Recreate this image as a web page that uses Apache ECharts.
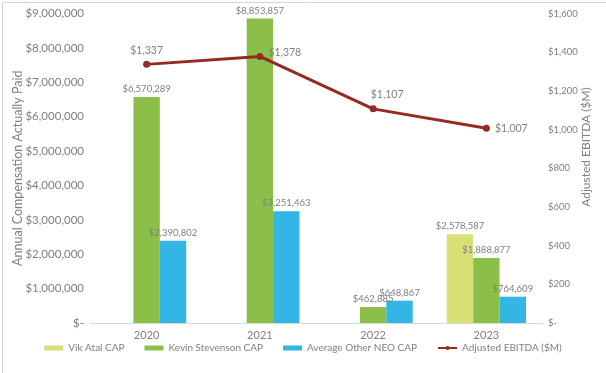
<!DOCTYPE html>
<html>
<head>
<meta charset="utf-8">
<script src="https://cdn.jsdelivr.net/npm/echarts@6/dist/echarts.min.js"></script>
<style>
html,body{margin:0;padding:0;background:#fff;}
#chart{width:606px;height:373px;}
</style>
</head>
<body>
<div id="chart"></div>
<script>
// ---- data ----
var categories = ['2020', '2021', '2022', '2023'];
var vikAtalCAP = [null, null, null, 2578587];
var kevinStevensonCAP = [6570289, 8853857, 462885, 1888877];
var avgOtherNeoCAP = [2390802, 3251463, 648867, 764609];
var adjustedEbitda = [1337, 1378, 1107, 1007];
var leftTicks = { min: 0, max: 9000000, interval: 1000000 };
var rightTicks = { min: 0, max: 1600, interval: 200 };
var ebitdaLabelPos = ['top', 'right', 'top', 'right'];

var FONT = 'Lato';
var GRAY = '#7f7f7f';

function money(v) {
  if (v === 0) return '$-';
  return '$' + Math.round(v).toLocaleString('en-US');
}

var chart = echarts.init(document.getElementById('chart'));

var barLabel = {
  show: true, position: 'top', distance: 3,
  color: GRAY, fontFamily: FONT, fontSize: 9.5,
  formatter: function (p) { return money(p.value); }
};

var lineData = adjustedEbitda.map(function (v, i) {
  var lbl = { position: ebitdaLabelPos[i] };
  if (i === 1) { lbl.offset = [0, -4]; }
  if (i === 2) { lbl.offset = [14, 0]; }
  return { value: v, label: lbl };
});

chart.setOption({
  animation: false,
  textStyle: { fontFamily: FONT },
  grid: { left: 90, right: 63, top: 13.5, bottom: 50, containLabel: false, outerBoundsMode: 'none' },
  legend: {
    bottom: 15, left: 'center',
    itemWidth: 19, itemHeight: 5, itemGap: 20,
    textStyle: { color: GRAY, fontFamily: FONT, fontSize: 10 },
    data: [
      { name: 'Vik Atal CAP', icon: 'rect' },
      { name: 'Kevin Stevenson CAP', icon: 'rect' },
      { name: 'Average Other NEO CAP', icon: 'rect' },
      { name: 'Adjusted EBITDA ($M)' }
    ]
  },
  xAxis: {
    type: 'category', data: categories,
    axisTick: { show: false },
    axisLine: { lineStyle: { color: '#d9d9d9', width: 1 } },
    axisLabel: { color: GRAY, fontFamily: FONT, fontSize: 11, margin: 7 }
  },
  yAxis: [
    {
      type: 'value', min: leftTicks.min, max: leftTicks.max, interval: leftTicks.interval,
      name: 'Annual Compensation Actually Paid', nameLocation: 'middle', nameGap: 66,
      nameMoveOverlap: false,
      nameTextStyle: { color: GRAY, fontFamily: FONT, fontSize: 12.5 },
      splitLine: { show: false }, axisLine: { show: false }, axisTick: { show: false },
      axisLabel: { color: GRAY, fontFamily: FONT, fontSize: 11.5, margin: 6, formatter: money }
    },
    {
      type: 'value', min: rightTicks.min, max: rightTicks.max, interval: rightTicks.interval,
      position: 'right',
      splitLine: { show: false }, axisLine: { show: false }, axisTick: { show: false },
      axisLabel: { color: GRAY, fontFamily: FONT, fontSize: 9.5, margin: 5, formatter: money }
    }
  ],
  graphic: [
    {
      type: 'rect', left: 0, top: 0, silent: true,
      shape: { x: 0.5, y: 0.5, width: 604.5, height: 371.5 },
      style: { fill: 'none', stroke: '#d4d4d4', lineWidth: 1 }
    },
    {
      type: 'text', x: 586, y: 147, rotation: Math.PI / 2, silent: true,
      style: { text: 'Adjusted EBITDA ($M)', fill: GRAY, font: '12px Lato', align: 'center', verticalAlign: 'middle' }
    }
  ],
  series: [
    {
      name: 'Vik Atal CAP', type: 'bar', data: vikAtalCAP, yAxisIndex: 0,
      barWidth: 26.4, barGap: '0%',
      itemStyle: { color: '#d8df74' }, label: barLabel
    },
    {
      name: 'Kevin Stevenson CAP', type: 'bar', data: kevinStevensonCAP, yAxisIndex: 0,
      barWidth: 26.4, barGap: '0%',
      itemStyle: { color: '#8cbf4a' }, label: barLabel
    },
    {
      name: 'Average Other NEO CAP', type: 'bar', data: avgOtherNeoCAP, yAxisIndex: 0,
      barWidth: 26.4, barGap: '0%',
      itemStyle: { color: '#33b6e4' }, label: barLabel
    },
    {
      name: 'Adjusted EBITDA ($M)', type: 'line', data: lineData, yAxisIndex: 1,
      symbol: 'circle', symbolSize: 7,
      lineStyle: { color: '#952a24', width: 3 },
      itemStyle: { color: '#952a24' },
      label: {
        show: true, color: GRAY, fontFamily: FONT, fontSize: 10.5, distance: 5,
        formatter: function (p) { return money(p.value); }
      }
    }
  ]
});
</script>
</body>
</html>
